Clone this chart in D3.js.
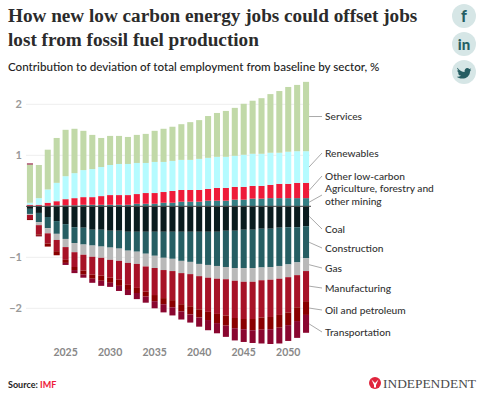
<!DOCTYPE html>
<html>
<head>
<meta charset="utf-8">
<script src="https://d3js.org/d3.v7.min.js"></script>
<style>
    html, body { margin: 0; padding: 0; background: #fff; }
    svg { display: block; }
    text { font-family: Lato, sans-serif; }
</style>
</head>
<body>
<div id="chart"></div>
<script>
const years = d3.range(2021, 2053);

const agriculture = [.01,.01,.01,.02,.02,.02,.03,.03,.03,.03,.03,.03,.05,.05,.05,.07,.07,.09,.09,.09,.11,.11,.11,.13,.13,.15,.15,.16,.16,.16,.16,.16];
const lowCarbon = [.02,.02,.06,.08,.12,.14,.15,.15,.17,.19,.19,.19,.19,.21,.21,.21,.23,.23,.23,.23,.23,.25,.25,.25,.25,.25,.25,.26,.28,.28,.30,.30];
const renewables = [.04,.13,.26,.36,.45,.49,.53,.55,.57,.59,.61,.61,.61,.59,.61,.59,.59,.59,.59,.61,.61,.61,.61,.61,.63,.63,.63,.63,.61,.63,.62,.62];
const services = [.75,.65,.78,.88,.91,.87,.77,.67,.57,.57,.55,.53,.55,.57,.61,.65,.67,.70,.74,.76,.82,.86,.90,.94,1.00,1.04,1.09,1.15,1.21,1.27,1.30,1.36];
const coal = [-.05,-.13,-.21,-.29,-.35,-.41,-.42,-.46,-.46,-.48,-.48,-.50,-.50,-.50,-.50,-.50,-.50,-.50,-.50,-.50,-.50,-.50,-.48,-.48,-.46,-.46,-.44,-.44,-.42,-.41,-.41,-.39];
const construction = [-.10,-.18,-.22,-.25,-.29,-.31,-.33,-.31,-.33,-.33,-.35,-.37,-.39,-.43,-.47,-.51,-.53,-.57,-.59,-.63,-.65,-.67,-.71,-.73,-.75,-.75,-.76,-.75,-.75,-.73,-.69,-.63];
const gas = [-.02,-.06,-.10,-.12,-.16,-.18,-.20,-.22,-.22,-.24,-.24,-.24,-.24,-.25,-.24,-.24,-.24,-.24,-.24,-.24,-.25,-.25,-.24,-.25,-.27,-.27,-.25,-.25,-.25,-.25,-.25,-.25];
const manufacturing = [-.08,-.18,-.20,-.22,-.25,-.29,-.31,-.35,-.35,-.35,-.37,-.43,-.47,-.49,-.53,-.55,-.57,-.61,-.63,-.65,-.67,-.69,-.71,-.73,-.73,-.73,-.73,-.73,-.71,-.69,-.63,-.59];
const oil = [-.02,-.03,-.06,-.08,-.06,-.06,-.08,-.08,-.10,-.10,-.12,-.10,-.10,-.10,-.12,-.12,-.14,-.14,-.16,-.16,-.16,-.18,-.20,-.20,-.20,-.22,-.24,-.24,-.25,-.25,-.27,-.27];
const transportation = [.02,-.01,0,0,-.04,-.06,-.06,-.08,-.10,-.08,-.10,-.10,-.12,-.12,-.14,-.16,-.16,-.16,-.16,-.18,-.20,-.20,-.22,-.24,-.25,-.25,-.27,-.29,-.31,-.31,-.33,-.35];

const sectorNames = ["Agriculture", "Other low-carbon", "Renewables", "Services", "Coal", "Construction", "Gas", "Manufacturing", "Oil and petroleum", "Transportation"];
const sectorValues = [agriculture, lowCarbon, renewables, services, coal, construction, gas, manufacturing, oil, transportation];
const sectorColors = ["#357f84", "#ee1b39", "#b5fbff", "#c1d9a8", "#0a1c1e", "#265e63", "#b9b9b9", "#a71227", "#8a0000", "#8a062f"];

const yTicks = [-2, -1, 1, 2];
const xTicks = [2025, 2030, 2035, 2040, 2045, 2050];

const width = 497, height = 395;

// one row per year for d3.stack
const rows = years.map((year, i) => {
    const row = {year: year};
    sectorNames.forEach((name, s) => row[name] = sectorValues[s][i]);
    return row;
});

const series = d3.stack()
    .keys(sectorNames)
    .offset(d3.stackOffsetDiverging)(rows);

const x = d3.scaleBand()
    .domain(years)
    .range([25.5, 310.5])
    .paddingInner(0.32)
    .paddingOuter(0.16);

const y = d3.scaleLinear()
    .domain([-2, 2])
    .range([308.3, 104.3]);

const svg = d3.select("#chart").append("svg")
    .attr("width", width)
    .attr("height", height);

// heading
const title = svg.append("g")
    .attr("font-weight", 700)
    .attr("fill", "#2b2b2b");
title.append("text").attr("x", 8).attr("y", 22)
    .style("font-family", "'Liberation Serif', serif").style("font-size", "19.2px")
    .text("How new low carbon energy jobs could offset jobs");
title.append("text").attr("x", 8).attr("y", 46)
    .style("font-family", "'Liberation Serif', serif").style("font-size", "19.2px")
    .text("lost from fossil fuel production");

svg.append("text")
    .attr("x", 8).attr("y", 71)
    .attr("fill", "#222")
    .attr("font-size", 11.6)
    .attr("font-weight", 500)
    .text("Contribution to deviation of total employment from baseline by sector, %");

// axes
const yAxis = svg.append("g")
    .attr("transform", "translate(26,0)")
    .call(d3.axisLeft(y).tickValues(yTicks).tickSize(0).tickPadding(4).tickFormat(d3.format("d")));
yAxis.select(".domain").remove();
yAxis.selectAll("text")
    .attr("fill", "#999").attr("font-size", 11).attr("font-weight", 700)
    .style("font-family", "Lato, sans-serif");

svg.append("g").selectAll("line")
    .data(yTicks)
    .join("line")
    .attr("x1", 26).attr("x2", 310)
    .attr("y1", d => y(d)).attr("y2", d => y(d))
    .attr("stroke", "#eeeeee");

const xAxis = svg.append("g")
    .attr("transform", "translate(0,349)")
    .call(d3.axisBottom(x).tickValues(xTicks).tickSize(0).tickPadding(0).tickFormat(d3.format("d")));
xAxis.select(".domain").remove();
xAxis.selectAll("text")
    .attr("fill", "#888").attr("font-size", 10.5).attr("font-weight", 700)
    .style("font-family", "Lato, sans-serif");

// bars
svg.append("g").selectAll("g")
    .data(series)
    .join("g")
    .attr("fill", (d, i) => sectorColors[i])
    .selectAll("rect")
    .data(d => d)
    .join("rect")
    .attr("x", d => x(d.data.year))
    .attr("width", x.bandwidth())
    .attr("y", d => y(Math.max(d[0], d[1])))
    .attr("height", d => Math.abs(y(d[0]) - y(d[1])));

// zero line sits on top of the bars
svg.append("line")
    .attr("x1", 26).attr("x2", 311)
    .attr("y1", y(0)).attr("y2", y(0))
    .attr("stroke", "#444").attr("stroke-width", 1);

// direct labels, with leaders from the last bar
const labelY = {
    "Services": 116.5,
    "Renewables": 153,
    "Other low-carbon": 176,
    "Agriculture": 195,
    "Coal": 229,
    "Construction": 248,
    "Gas": 268,
    "Manufacturing": 288,
    "Oil and petroleum": 310,
    "Transportation": 332
};

const lastYear = years[years.length - 1];
series.forEach(s => {
    const d = s[s.length - 1];
    const ly = labelY[s.key];
    svg.append("line")
        .attr("x1", x(lastYear) + x.bandwidth())
        .attr("x2", 322)
        .attr("y1", y((d[0] + d[1]) / 2))
        .attr("y2", ly)
        .attr("stroke", "#aaa").attr("stroke-width", 1);
});

const labels = svg.append("g")
    .attr("fill", "#333")
    .attr("font-size", 10.2)
    .attr("font-weight", 500);

sectorNames.filter(n => n !== "Agriculture").forEach(name => {
    labels.append("text").attr("x", 325).attr("y", labelY[name] + 3.7).text(name);
});
labels.append("text").attr("x", 325).attr("y", 192).text("Agriculture, forestry and");
labels.append("text").attr("x", 325).attr("y", 205).text("other mining");

// source
const source = svg.append("text")
    .attr("x", 8).attr("y", 388)
    .attr("font-size", 9)
    .attr("font-weight", 700)
    .attr("fill", "#222")
    .text("Source: ");
source.append("tspan").attr("fill", "#ee1b39").text("IMF");

// share buttons
const share = svg.append("g");
[[464, 16], [464, 44], [464, 72]].forEach(p => {
    share.append("circle").attr("cx", p[0]).attr("cy", p[1]).attr("r", 12).attr("fill", "#d6e6e6");
});
share.append("text").attr("x", 464).attr("y", 22).attr("text-anchor", "middle")
    .attr("font-size", 16).attr("font-weight", 900).attr("fill", "#265e63").text("f");
share.append("text").attr("x", 464).attr("y", 49.5).attr("text-anchor", "middle")
    .attr("font-size", 15).attr("font-weight", 900).attr("fill", "#265e63").text("in");
share.append("path")
    .attr("transform", "translate(464,72) scale(0.6)")
    .attr("d", "M-11,-7 C-7,-2 -3,0 1,0 C0,-5 5,-9 9,-5 L12,-6 L10,-3 L12,-3 L10,-1 C10,6 4,11 -3,11 C-7,11 -10,10 -12,8 C-9,8 -7,8 -5,6 C-8,6 -9,4 -10,2 L-8,2 C-10,1 -11,-1 -11,-3 L-9,-3 C-11,-4 -12,-6 -11,-7 Z")
    .attr("fill", "#265e63");

// logo
svg.append("circle").attr("cx", 375).attr("cy", 383).attr("r", 6).attr("fill", "#e0243d");
svg.append("path")
    .attr("d", "M371.5,379.5 L375,383 L378.5,379.5 L376,385 L376,387.5 L374,387.5 L374,385 Z")
    .attr("fill", "#fff");
svg.append("text")
    .attr("x", 383).attr("y", 388)
    .attr("fill", "#4a4a4a")
    .style("font-family", "'Liberation Serif', serif").style("font-size", "13.4px")
    .text("INDEPENDENT");
</script>
</body>
</html>
